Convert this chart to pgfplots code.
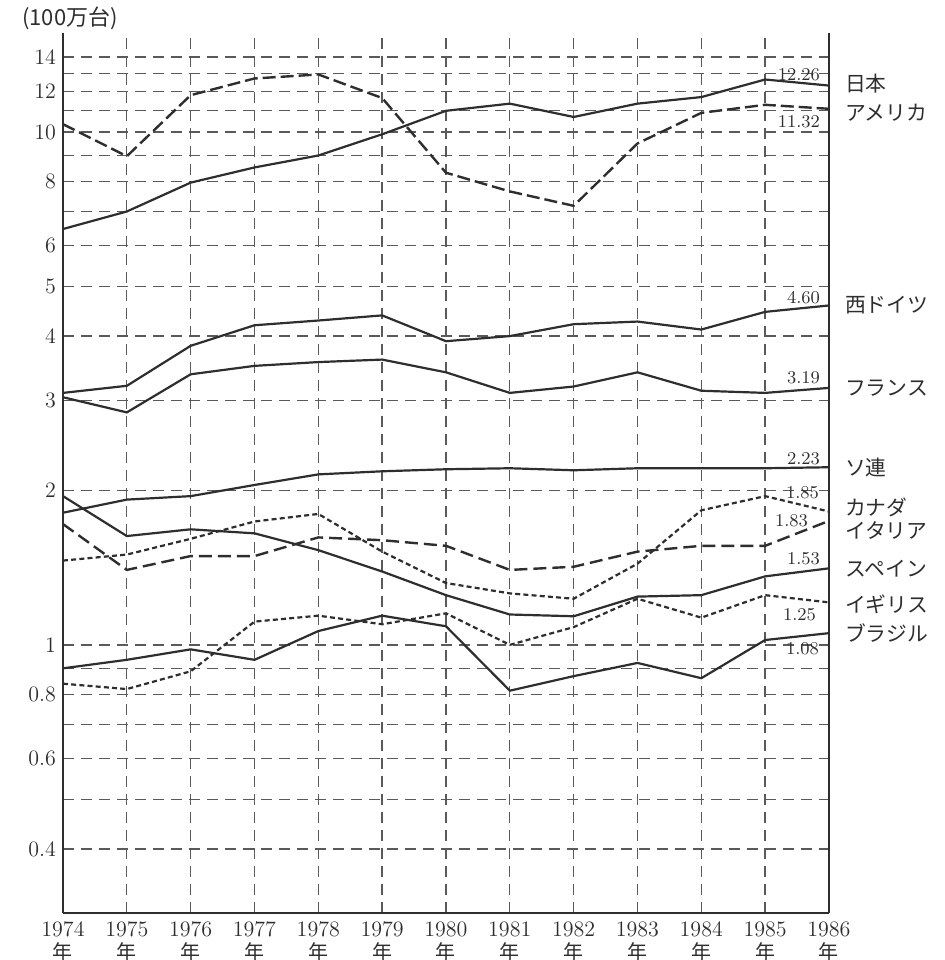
\documentclass[border=0pt]{standalone}
\usepackage{pgfplots}
\pgfplotsset{compat=1.18}
\usepackage{pgfplotstable}
\usepackage{fontspec}
\newfontfamily\cjk{Noto Sans CJK JP}
\definecolor{ink}{HTML}{2E2E2E}
\definecolor{gridc}{HTML}{5A5A5A}
\newcommand\numf{\fontsize{9}{10}\selectfont}
\newcommand\lblf{\fontsize{10.4}{12}\selectfont\cjk}
\newcommand\nen{{\cjk\fontsize{10}{10}\selectfont 年}}

\pgfplotstableread{
year jp    us    wg   fr   su   ca   it    sa    sb    br
1974 6.47  10.36 3.10 3.04 1.81 1.46 1.72  1.95  0.84  0.90
1975 7.00  8.97  3.20 2.84 1.92 1.50 1.40  1.63  0.82  0.935
1976 7.97  11.8  3.83 3.37 1.95 1.61 1.49  1.68  0.888 0.98
1977 8.53  12.72 4.20 3.50 2.05 1.74 1.49  1.65  1.11  0.935
1978 9.0   12.95 4.29 3.56 2.15 1.80 1.62  1.53  1.14  1.064
1979 9.9   11.65 4.39 3.60 2.18 1.52 1.60  1.39  1.097 1.14
1980 11.0  8.33  3.91 3.40 2.20 1.32 1.56  1.25  1.152 1.087
1981 11.36 7.66  4.00 3.10 2.21 1.26 1.40  1.146 1.00  0.814
1982 10.7  7.18  4.22 3.19 2.19 1.23 1.42  1.137 1.083 0.869
1983 11.36 9.5   4.27 3.40 2.21 1.44 1.52  1.242 1.23  0.922
1984 11.7  10.9  4.12 3.13 2.21 1.83 1.56  1.25  1.13  0.861
1985 12.66 11.3  4.46 3.10 2.21 1.95 1.56  1.36  1.25  1.022
1986 12.32 11.1  4.59 3.17 2.22 1.82 1.745 1.41  1.21  1.054
}\data

\begin{document}
\begin{tikzpicture}
\begin{axis}[
  width=383pt, height=440pt, scale only axis,
  xmin=1974, xmax=1986,
  ymode=log, ymin=0.3, ymax=15.6,
  axis x line*=bottom, axis y line*=box,
  axis line style={ink, line width=0.9pt},
  xtick={1974,...,1986},
  xticklabels={{1974\\\nen},{1975\\\nen},{1976\\\nen},{1977\\\nen},{1978\\\nen},{1979\\\nen},{1980\\\nen},{1981\\\nen},{1982\\\nen},{1983\\\nen},{1984\\\nen},{1985\\\nen},{1986\\\nen}},
  xticklabel style={align=center, font=\fontsize{11}{11.5}\selectfont, text=ink, yshift=-1pt},
  ytick={0.4,0.6,0.8,1,2,3,4,5,6,8,10,12,14},
  yticklabels={0.4,0.6,0.8,1,2,3,4,5,6,8,10,12,14},
  yticklabel style={font=\fontsize{11}{12}\selectfont, text=ink},
  minor ytick={0.5,0.7,0.9,7,9,11,13},
  grid=both,
  major grid style={gridc, line width=0.65pt, dash pattern=on 5.5pt off 3.5pt},
  minor grid style={gridc, line width=0.65pt, dash pattern=on 5.5pt off 3.5pt},
  major tick length=0pt, minor tick length=0pt,
  clip=false,
]
\addplot[ink, line width=1.1pt] table[x=year,y=jp]{\data};
\addplot[ink, line width=1.2pt, dash pattern=on 6.5pt off 2.5pt] table[x=year,y=us]{\data};
\addplot[ink, line width=1.1pt] table[x=year,y=wg]{\data};
\addplot[ink, line width=1.1pt] table[x=year,y=fr]{\data};
\addplot[ink, line width=1.1pt] table[x=year,y=su]{\data};
\addplot[ink, line width=1.1pt, dash pattern=on 2.5pt off 1.6pt] table[x=year,y=ca]{\data};
\addplot[ink, line width=1.2pt, dash pattern=on 6.5pt off 3pt] table[x=year,y=it]{\data};
\addplot[ink, line width=1.1pt] table[x=year,y=sa]{\data};
\addplot[ink, line width=1.1pt, dash pattern=on 2.5pt off 1.6pt] table[x=year,y=sb]{\data};
\addplot[ink, line width=1.1pt] table[x=year,y=br]{\data};

% value labels
\node[anchor=east, font=\numf, text=ink, xshift=-1pt, yshift=5.5pt] at (axis cs:1986,12.32) {12.26};
\node[anchor=east, font=\numf, text=ink, xshift=-1pt, yshift=-6.5pt] at (axis cs:1986,11.1) {11.32};
\node[anchor=east, font=\numf, text=ink, xshift=-1pt, yshift=4pt] at (axis cs:1986,4.59) {4.60};
\node[anchor=east, font=\numf, text=ink, xshift=-1pt, yshift=5pt] at (axis cs:1986,3.17) {3.19};
\node[anchor=east, font=\numf, text=ink, xshift=-1pt, yshift=4.5pt] at (axis cs:1986,2.22) {2.23};
\node[anchor=east, font=\numf, text=ink, xshift=-1.5pt, yshift=9.5pt] at (axis cs:1986,1.82) {1.85};
\node[anchor=east, font=\numf, text=ink, xshift=-7pt, yshift=0pt] at (axis cs:1986,1.745) {1.83};
\node[anchor=east, font=\numf, text=ink, xshift=-1pt, yshift=5pt] at (axis cs:1986,1.41) {1.53};
\node[anchor=east, font=\numf, text=ink, xshift=-3pt, yshift=-6pt] at (axis cs:1986,1.21) {1.25};
\node[anchor=east, font=\numf, text=ink, xshift=-1.5pt, yshift=-8pt] at (axis cs:1986,1.054) {1.08};

% country labels
\node[anchor=west, font=\lblf, text=ink, xshift=4.5pt, yshift=1pt] at (axis cs:1986,12.32) {日本};
\node[anchor=west, font=\lblf, text=ink, xshift=4.5pt, yshift=-2pt] at (axis cs:1986,11.1) {アメリカ};
\node[anchor=west, font=\lblf, text=ink, xshift=4.5pt] at (axis cs:1986,4.59) {西ドイツ};
\node[anchor=west, font=\lblf, text=ink, xshift=4.5pt] at (axis cs:1986,3.17) {フランス};
\node[anchor=west, font=\lblf, text=ink, xshift=4.5pt] at (axis cs:1986,2.22) {ソ連};
\node[anchor=west, font=\lblf, text=ink, xshift=4.5pt, yshift=2pt] at (axis cs:1986,1.82) {カナダ};
\node[anchor=west, font=\lblf, text=ink, xshift=4.5pt, yshift=-5pt] at (axis cs:1986,1.745) {イタリア};
\node[anchor=west, font=\lblf, text=ink, xshift=4.5pt] at (axis cs:1986,1.41) {スペイン};
\node[anchor=west, font=\lblf, text=ink, xshift=4.5pt, yshift=-1pt] at (axis cs:1986,1.21) {イギリス};
\node[anchor=west, font=\lblf, text=ink, xshift=4.5pt] at (axis cs:1986,1.054) {ブラジル};

\node[font=\fontsize{11}{12}\selectfont\cjk, text=ink, xshift=3.5pt, yshift=7.5pt] at (rel axis cs:0,1) {(100万台)};
\end{axis}
\pgfresetboundingbox
\path (current axis.south west) ++(-31.5pt,-23.5pt) rectangle ++(472pt,480pt);
\end{tikzpicture}
\end{document}
